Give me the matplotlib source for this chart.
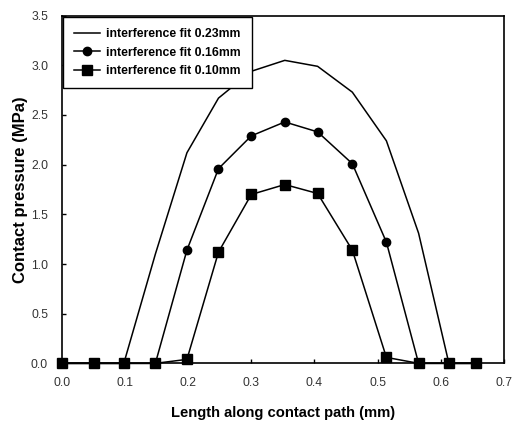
import numpy as np
import matplotlib.pyplot as plt

# datos
x = [0.0, 0.05, 0.098, 0.148, 0.198, 0.248, 0.30, 0.353, 0.405, 0.46, 0.514, 0.565, 0.613, 0.656]
p023 = [0, 0, 0, 1.10, 2.12, 2.67, 2.94, 3.05, 2.99, 2.73, 2.24, 1.31, 0, 0]
p016 = [0, 0, 0, 0, 1.14, 1.96, 2.29, 2.43, 2.33, 2.01, 1.22, 0, 0, 0]
p010 = [0, 0, 0, 0, 0.04, 1.12, 1.70, 1.80, 1.71, 1.14, 0.06, 0, 0, 0]

labels = ["interference fit 0.23mm", "interference fit 0.16mm", "interference fit 0.10mm"]

plt.rcParams["font.family"] = ["Liberation Sans", "DejaVu Sans"]

fig = plt.figure(figsize=(5.12, 4.23), dpi=100)
ax = fig.add_axes([0.121, 0.141, 0.863, 0.822])

ax.plot(x, p023, color="black", lw=1.1, label=labels[0], clip_on=False)
ax.plot(x, p016, color="black", lw=1.1, marker="o", markersize=6, label=labels[1], clip_on=False)
ax.plot(x, p010, color="black", lw=1.1, marker="s", markersize=6.5, label=labels[2], clip_on=False)

ax.set_xlim(0, 0.7)
ax.set_ylim(0, 3.5)
ax.set_xticks(np.arange(0, 0.71, 0.1))
ax.set_yticks(np.arange(0, 3.51, 0.5))
ax.xaxis.set_major_formatter(plt.FormatStrFormatter("%.1f"))
ax.yaxis.set_major_formatter(plt.FormatStrFormatter("%.1f"))
ax.tick_params(direction="in", length=3, width=1, labelsize=8.7, labelcolor="#333333")
ax.tick_params(axis="x", pad=10)
ax.tick_params(axis="y", pad=10)
for s in ax.spines.values():
    s.set_linewidth(1.2)

ax.set_xlabel("Length along contact path (mm)", fontsize=10.6, fontweight="bold", labelpad=12)
ax.set_ylabel("Contact pressure (MPa)", fontsize=12, fontweight="bold", labelpad=2)

leg = ax.legend(loc="upper left", borderaxespad=0.1, fancybox=False, edgecolor="black",
                framealpha=1, handlelength=2.1, handletextpad=0.5, labelspacing=0.55,
                borderpad=0.9,
                prop={"family": ["Liberation Sans Narrow", "Liberation Sans"], "weight": "bold", "size": 8.8})
leg.get_frame().set_linewidth(1.0)
leg.set_zorder(5)

fig.savefig("out.png", dpi=100)
